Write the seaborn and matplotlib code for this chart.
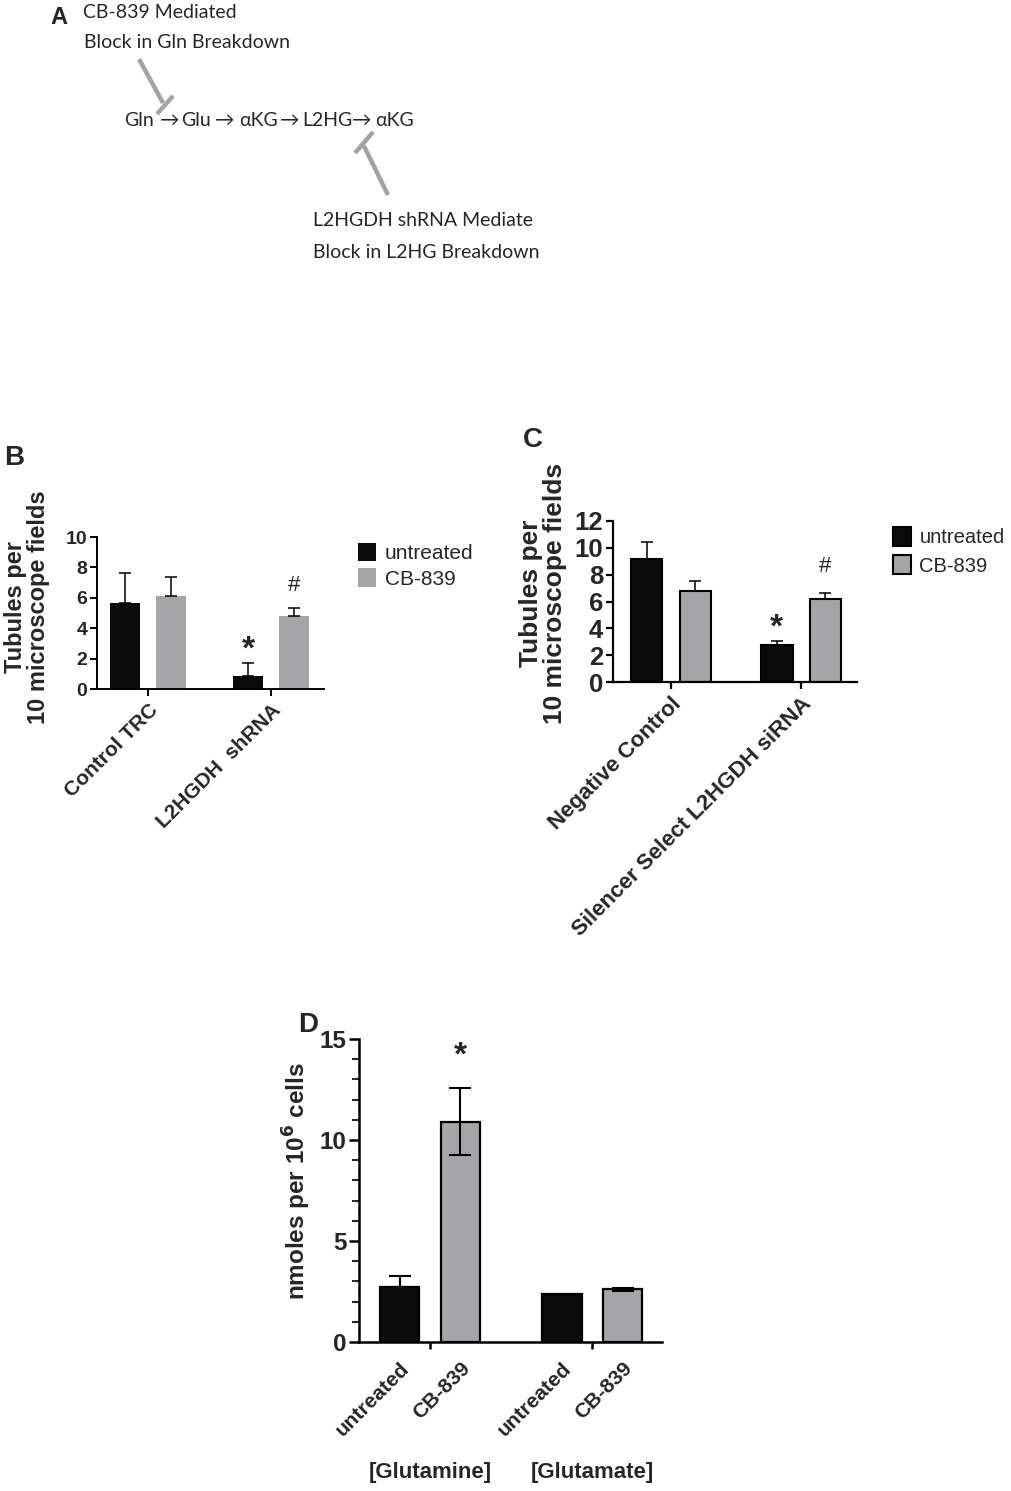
import numpy as np
import pandas as pd
import matplotlib
matplotlib.use("Agg")
import matplotlib.pyplot as plt
from matplotlib.patches import Patch
from matplotlib.ticker import MultipleLocator
import seaborn as sns

W, H = 1012, 1491

# panel B - tubules, shRNA
b_groups = ["Control TRC", "L2HGDH  shRNA"]
b_untreated = [5.65, 0.85]
b_untreated_err = [1.95, 0.85]
b_cb839 = [6.1, 4.8]
b_cb839_err = [1.25, 0.5]

# panel C - tubules, siRNA
c_groups = ["Negative Control", "Silencer Select L2HGDH siRNA"]
c_untreated = [9.15, 2.75]
c_untreated_err = [1.25, 0.3]
c_cb839 = [6.75, 6.2]
c_cb839_err = [0.75, 0.4]

# panel D - nmoles per 10^6 cells
d_groups = ["[Glutamine]", "[Glutamate]"]
d_untreated = [2.7, 2.4]
d_untreated_err = [0.55, 0.0]
d_cb839 = [10.9, 2.6]
d_cb839_err = [1.65, 0.07]

treatments = ["untreated", "CB-839"]
BLACK = "#0b0b0b"
GRAY = "#a5a5a8"
PATH_GRAY = "#a3a3a3"

sns.set_style("ticks")
plt.rcParams["font.family"] = ["Liberation Sans", "DejaVu Sans"]
plt.rcParams["font.weight"] = "bold"


def make_df(groups, untr, cb):
    return pd.DataFrame({
        "group": list(groups) * 2,
        "treatment": ["untreated"] * len(groups) + ["CB-839"] * len(groups),
        "value": list(untr) + list(cb),
    })


def px_axes(fig, left, top, right, bottom):
    return fig.add_axes([left / W, 1 - bottom / H, (right - left) / W, (bottom - top) / H])


def draw_bars(ax, groups, untr, untr_err, cb, cb_err, edge, lw, elw, cap, two_sided=False):
    df = make_df(groups, untr, cb)
    sns.barplot(data=df, x="group", y="value", hue="treatment", hue_order=treatments,
                palette=[BLACK, GRAY], width=0.75, gap=0.35, errorbar=None,
                edgecolor=edge, linewidth=lw, saturation=1, legend=False, ax=ax)
    tops = {}
    centers = []
    for t, cont, vals, errs in zip(treatments, ax.containers, [untr, cb], [untr_err, cb_err]):
        for g, bar, v, e in zip(groups, cont, vals, errs):
            x = bar.get_x() + bar.get_width() / 2
            centers.append(x)
            if e > 0:
                # GraphPad style: lower whisker only shows on the gray bars
                lower = e if (two_sided and t == "CB-839") else 0
                ax.errorbar(x, v, yerr=[[lower], [e]], fmt="none", ecolor="black",
                            elinewidth=elw, capsize=cap, capthick=elw)
            tops[(g, t)] = (x, v + e)
    return tops, sorted(centers)


def style_axes(ax, lw):
    sns.despine(ax=ax)
    for s in ["left", "bottom"]:
        ax.spines[s].set_linewidth(lw)
        ax.spines[s].set_color("black")
    ax.tick_params(width=lw, length=5, color="black")
    ax.set_xlabel("")


def mark(ax, xy, txt, size, dy):
    ax.annotate(txt, xy=xy, xytext=(0, dy), textcoords="offset points",
                ha="center", va="bottom", fontsize=size,
                fontweight="bold" if txt == "*" else "normal")


fig = plt.figure(figsize=(W / 100, H / 100), dpi=100)

# ---- panel A (pathway diagram) in pixel coords
ax_a = fig.add_axes([0, 0, 1, 1])
ax_a.set_xlim(0, W)
ax_a.set_ylim(H, 0)
ax_a.axis("off")
ax_a.patch.set_alpha(0)
afont = ["Lato", "DejaVu Sans"]
afs = 14
ax_a.text(50, 17, "A", fontsize=17, fontweight="bold", va="center", ha="left")
ax_a.text(83, 13, "CB-839 Mediated", family=afont, fontweight="normal", fontsize=afs, va="center")
ax_a.text(84, 42, "Block in Gln Breakdown", family=afont, fontweight="normal", fontsize=afs, va="center")
for x, s in [(139, "Gln"), (170, "\u2192"), (196, "Glu"), (225, "\u2192"), (259, "\u03b1KG"),
             (290, "\u2192"), (327, "L2HG"), (362, "\u2192"), (395, "\u03b1KG")]:
    ax_a.text(x, 120, s, family=afont, fontweight="normal", fontsize=afs, va="center", ha="center")
ax_a.plot([139, 163], [59, 103], color=PATH_GRAY, lw=3.2, solid_capstyle="butt")
ax_a.plot([157, 173], [114, 96], color=PATH_GRAY, lw=3.2, solid_capstyle="butt")
ax_a.plot([388, 364], [195, 146], color=PATH_GRAY, lw=3.2, solid_capstyle="butt")
ax_a.plot([355, 373], [153, 132], color=PATH_GRAY, lw=3.2, solid_capstyle="butt")
ax_a.text(313, 220, "L2HGDH shRNA Mediate", family=afont, fontweight="normal", fontsize=afs, va="center")
ax_a.text(313, 253, "Block in L2HG Breakdown", family=afont, fontweight="normal", fontsize=afs, va="center")
ax_a.text(4, 458, "B", fontsize=20, fontweight="bold", va="center")
ax_a.text(523, 440, "C", fontsize=20, fontweight="bold", va="center")
ax_a.text(298, 1025, "D", fontsize=20, fontweight="bold", va="center")

# ---- panel B
ax_b = px_axes(fig, 97, 537, 324, 689)
tops_b, _ = draw_bars(ax_b, b_groups, b_untreated, b_untreated_err, b_cb839, b_cb839_err,
                      edge="none", lw=0, elw=1.1, cap=4.5)
ax_b.set_ylim(0, 10)
ax_b.set_yticks([0, 2, 4, 6, 8, 10])
ax_b.set_xlim(-0.415, 1.43)
style_axes(ax_b, 1.4)
ax_b.tick_params(axis="y", labelsize=14, pad=2)
ax_b.set_xticks([0, 1])
ax_b.set_xticklabels(b_groups, rotation=45, ha="right", rotation_mode="anchor", fontsize=15)
ax_b.set_ylabel("Tubules per\n10 microscope fields", fontsize=17, fontweight="bold", linespacing=1.0)
ax_b.yaxis.set_label_coords(-0.207, 0.54)
mark(ax_b, tops_b[(b_groups[1], "untreated")], "*", 24, -2)
mark(ax_b, tops_b[(b_groups[1], "CB-839")], "#", 16, 9)
fig.legend(handles=[Patch(facecolor=BLACK, edgecolor="none", label="untreated"),
                    Patch(facecolor=GRAY, edgecolor="none", label="CB-839")],
           loc="upper left", bbox_to_anchor=(343 / W, 1 - 528 / H), frameon=False,
           prop={"size": 15, "weight": "normal"}, handlelength=0.9, handleheight=1.0,
           handletextpad=0.4, labelspacing=0.25, borderpad=0.2)

# ---- panel C
ax_c = px_axes(fig, 613, 521, 857, 682)
tops_c, _ = draw_bars(ax_c, c_groups, c_untreated, c_untreated_err, c_cb839, c_cb839_err,
                      edge="black", lw=1.5, elw=1.1, cap=4.5)
ax_c.set_ylim(0, 12)
ax_c.set_yticks([0, 2, 4, 6, 8, 10, 12])
ax_c.set_xlim(-0.446, 1.43)
style_axes(ax_c, 1.6)
ax_c.tick_params(axis="y", labelsize=18.5, pad=2)
ax_c.set_xticks([0, 1])
ax_c.set_xticklabels(c_groups, rotation=45, ha="right", rotation_mode="anchor", fontsize=16)
ax_c.set_ylabel("Tubules per\n10 microscope fields", fontsize=19, fontweight="bold", linespacing=1.0)
ax_c.yaxis.set_label_coords(-0.19, 0.55)
mark(ax_c, tops_c[(c_groups[1], "untreated")], "*", 24, -2)
mark(ax_c, tops_c[(c_groups[1], "CB-839")], "#", 16, 12)
fig.legend(handles=[Patch(facecolor=BLACK, edgecolor="black", lw=1.5, label="untreated"),
                    Patch(facecolor=GRAY, edgecolor="black", lw=1.5, label="CB-839")],
           loc="upper left", bbox_to_anchor=(879 / W, 1 - 513 / H), frameon=False,
           prop={"size": 14.5, "weight": "normal"}, handlelength=0.9, handleheight=1.05,
           handletextpad=0.4, labelspacing=0.4, borderpad=0.2)

# ---- panel D
ax_d = px_axes(fig, 359, 1039, 662, 1342)
tops_d, centers_d = draw_bars(ax_d, d_groups, d_untreated, d_untreated_err, d_cb839, d_cb839_err,
                              edge="black", lw=1.6, elw=1.5, cap=8, two_sided=True)
ax_d.set_ylim(0, 15)
ax_d.set_yticks([0, 5, 10, 15])
ax_d.yaxis.set_minor_locator(MultipleLocator(1))
ax_d.set_xlim(-0.438, 1.43)
style_axes(ax_d, 1.8)
ax_d.tick_params(axis="y", which="major", labelsize=17.5, length=7, pad=2)
ax_d.tick_params(axis="y", which="minor", width=1.5, length=5)
ax_d.set_xticks([0, 1])
ax_d.set_xticklabels(["", ""])
ax_d.set_xticks(centers_d, minor=True)
ax_d.set_xticklabels(["untreated", "CB-839", "untreated", "CB-839"], minor=True,
                     rotation=45, ha="right", rotation_mode="anchor", fontsize=15)
ax_d.tick_params(axis="x", which="minor", length=0, pad=12)
ax_d.set_ylabel("nmoles per 10$^{6}$ cells", fontsize=17.5, fontweight="bold")
ax_d.yaxis.set_label_coords(-0.152, 0.53)
for i, g in enumerate(d_groups):
    ax_d.text(i, -0.43, g, transform=ax_d.get_xaxis_transform(), ha="center", va="center",
              fontsize=16, fontweight="bold")
mark(ax_d, tops_d[(d_groups[0], "CB-839")], "*", 24, 12)

fig.savefig("out.png", dpi=100)
